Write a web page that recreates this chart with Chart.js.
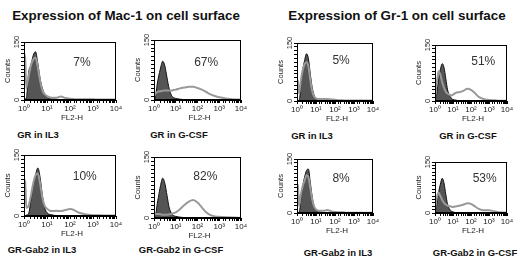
<!DOCTYPE html>
<html>
<head>
<meta charset="utf-8">
<script src="https://cdn.jsdelivr.net/npm/chart.js@4.4.1/dist/chart.umd.min.js"></script>
<style>
  body { margin: 0; width: 520px; height: 257px; background: #fff; position: relative; overflow: hidden;
         font-family: "Liberation Sans", Arial, sans-serif; }
  .txt { position: absolute; white-space: nowrap; transform: translate(-50%, -50%); color: #111; }
  .title { font-weight: bold; font-size: 13.4px; }
  .sample { font-weight: bold; font-size: 9.5px; }
  .panel { position: absolute; }
</style>
</head>
<body>
<script>
// FL2-H channel (log scale) where each count is read
const fl2Bins = [1, 1.12, 1.26, 1.41, 1.58, 2.0, 2.51, 3.16, 3.98, 5.01, 6.31, 7.94, 10,
                 15.8, 25.1, 39.8, 63.1, 100, 158, 251, 398, 631, 1000, 2000, 3980, 10000];

// Mac-1, GR in IL3
const macGrIL3Ctrl   = [0, 2, 5, 30, 70, 90, 115, 125, 95, 55, 30, 15, 6, 3, 2, 1, 0, 0, 0, 0, 0, 0, 0, 0, 0, 0];
const macGrIL3Stain  = [120, 110, 30, 45, 60, 90, 105, 110, 85, 50, 25, 15, 10, 6, 6, 9, 5, 3, 2, 2, 2, 2, 2, 1, 1, 1];
// Mac-1, GR in G-CSF
const macGrGcsfCtrl  = [0, 5, 20, 40, 55, 80, 97, 85, 55, 28, 12, 6, 4, 2, 1, 0, 0, 0, 0, 0, 0, 0, 0, 0, 0, 0];
const macGrGcsfStain = [10, 14, 18, 20, 21, 22, 23, 24, 24, 24, 24, 25, 26, 29, 31, 33, 33, 30, 26, 20, 14, 10, 7, 4, 2, 1];
// Gr-1, GR in IL3
const gr1GrIL3Ctrl   = [0, 0, 2, 10, 40, 80, 105, 122, 110, 70, 35, 15, 6, 3, 1, 0, 0, 0, 0, 0, 0, 0, 0, 0, 0, 0];
const gr1GrIL3Stain  = [55, 50, 20, 30, 50, 80, 95, 100, 90, 55, 25, 12, 7, 5, 5, 5, 4, 3, 2, 2, 1, 1, 1, 1, 1, 1];
// Gr-1, GR in G-CSF
const gr1GrGcsfCtrl  = [0, 8, 20, 40, 60, 85, 100, 90, 60, 30, 15, 8, 4, 2, 0, 0, 0, 0, 0, 0, 0, 0, 0, 0, 0, 0];
const gr1GrGcsfStain = [5, 30, 50, 65, 80, 70, 50, 35, 25, 20, 17, 15, 17, 23, 24, 28, 33, 30, 22, 12, 7, 4, 3, 2, 1, 1];
// Mac-1, GR-Gab2 in IL3
const macGabIL3Ctrl   = [0, 0, 2, 3, 5, 40, 75, 100, 118, 95, 50, 20, 8, 3, 1, 0, 0, 0, 0, 0, 0, 0, 0, 0, 0, 0];
const macGabIL3Stain  = [90, 85, 20, 22, 25, 50, 80, 100, 105, 80, 45, 25, 18, 12, 13, 12, 15, 17, 14, 8, 5, 3, 2, 2, 1, 1];
// Mac-1, GR-Gab2 in G-CSF
const macGabGcsfCtrl  = [0, 4, 15, 35, 50, 80, 98, 85, 55, 25, 12, 6, 4, 2, 1, 0, 0, 0, 0, 0, 0, 0, 0, 0, 0, 0];
const macGabGcsfStain = [8, 9, 10, 10, 10, 9, 8, 8, 8, 9, 10, 12, 14, 22, 32, 40, 44, 38, 26, 14, 7, 4, 3, 2, 1, 0];
// Gr-1, GR-Gab2 in IL3
const gr1GabIL3Ctrl   = [0, 0, 2, 10, 35, 75, 100, 118, 122, 85, 45, 18, 7, 3, 1, 0, 0, 0, 0, 0, 0, 0, 0, 0, 0, 0];
const gr1GabIL3Stain  = [80, 75, 20, 30, 50, 75, 90, 105, 100, 70, 38, 18, 10, 6, 6, 8, 5, 3, 2, 2, 1, 1, 1, 1, 1, 1];
// Gr-1, GR-Gab2 in G-CSF
const gr1GabGcsfCtrl  = [0, 10, 25, 45, 60, 85, 102, 88, 55, 25, 12, 6, 3, 1, 0, 0, 0, 0, 0, 0, 0, 0, 0, 0, 0, 0];
const gr1GabGcsfStain = [5, 30, 45, 55, 60, 50, 38, 30, 25, 22, 20, 19, 18, 20, 22, 25, 29, 27, 20, 13, 9, 8, 8, 5, 2, 1];

const percentLabels = ['7%', '67%', '5%', '51%', '10%', '82%', '8%', '53%'];
const sampleNames = ['GR in IL3', 'GR in G-CSF', 'GR in IL3', 'GR in G-CSF',
                     'GR-Gab2 in IL3', 'GR-Gab2 in G-CSF', 'GR-Gab2 in IL3', 'GR-Gab2 in G-CSF'];
const groupTitles = ['Expression of Mac-1 on cell surface', 'Expression of Gr-1 on cell surface'];
const decadeTicks = ['10\u2070', '10\u00b9', '10\u00b2', '10\u00b3', '10\u2074'];
const countTicks = [0, 150];

const controls = [macGrIL3Ctrl, macGrGcsfCtrl, gr1GrIL3Ctrl, gr1GrGcsfCtrl,
                  macGabIL3Ctrl, macGabGcsfCtrl, gr1GabIL3Ctrl, gr1GabGcsfCtrl];
const stains = [macGrIL3Stain, macGrGcsfStain, gr1GrIL3Stain, gr1GrGcsfStain,
                macGabIL3Stain, macGabGcsfStain, gr1GabIL3Stain, gr1GabGcsfStain];

// plot boxes on the page + where the % sits inside the box
const panels = [
  { l: 24,  t: 42,  r: 116, b: 100, px: 0.63, py: 0.36, nx: 38,  ny: 134 },
  { l: 154, t: 40,  r: 241, b: 100, px: 0.60, py: 0.37, nx: 179, ny: 134 },
  { l: 297, t: 43,  r: 373, b: 101, px: 0.58, py: 0.31, nx: 312, ny: 135 },
  { l: 435, t: 45,  r: 507, b: 101, px: 0.67, py: 0.29, nx: 468, ny: 135 },
  { l: 24,  t: 155, r: 116, b: 216, px: 0.66, py: 0.36, nx: 42,  ny: 249 },
  { l: 154, t: 157, r: 241, b: 218, px: 0.59, py: 0.33, nx: 181, ny: 249 },
  { l: 297, t: 159, r: 373, b: 213, px: 0.58, py: 0.37, nx: 338, ny: 252 },
  { l: 435, t: 162, r: 507, b: 213, px: 0.69, py: 0.33, nx: 475, ny: 252 }
];
const titlePos = [{ x: 126, y: 15 }, { x: 397, y: 15 }];

const Y_W = 26, PAD_T = 10, PAD_R = 10, X_H = 24;
const FONT = '"Liberation Sans", Arial, sans-serif';

function addText(text, x, y, cls) {
  const d = document.createElement('div');
  d.className = 'txt ' + cls;
  d.textContent = text;
  d.style.left = x + 'px';
  d.style.top = y + 'px';
  document.body.appendChild(d);
}

// box outline, rotated y labels, FL2-H and the percentage
const panelDecor = {
  id: 'panelDecor',
  afterDraw(chart, args, opts) {
    const { ctx, chartArea: a } = chart;
    const yScale = chart.scales.y;
    ctx.save();
    ctx.strokeStyle = '#000';
    ctx.lineWidth = 1;
    ctx.strokeRect(Math.round(a.left) + 0.5, Math.round(a.top) + 0.5,
                   Math.round(a.right - a.left) - 1, Math.round(a.bottom - a.top) - 1);

    ctx.fillStyle = '#222';
    ctx.textAlign = 'center';
    ctx.textBaseline = 'middle';
    ctx.font = '7.5px ' + FONT;
    countTicks.forEach(v => {
      ctx.save();
      ctx.translate(a.left - 7, yScale.getPixelForValue(v));
      ctx.rotate(-Math.PI / 2);
      ctx.fillText(String(v), 0, 0);
      ctx.restore();
    });
    ctx.save();
    ctx.translate(a.left - 16, (a.top + a.bottom) / 2);
    ctx.rotate(-Math.PI / 2);
    ctx.fillText('Counts', 0, 0);
    ctx.restore();

    ctx.font = '8px ' + FONT;
    ctx.fillText('FL2-H', (a.left + a.right) / 2 + 2, a.bottom + 18);

    ctx.fillStyle = '#333';
    ctx.font = '12px ' + FONT;
    ctx.fillText(opts.label, a.left + opts.px * (a.right - a.left), a.top + opts.py * (a.bottom - a.top));
    ctx.restore();
  }
};

function createPanel(i) {
  const p = panels[i];
  const w = p.r - p.l + Y_W + PAD_R;
  const h = p.b - p.t + PAD_T + X_H;
  const wrap = document.createElement('div');
  wrap.className = 'panel';
  wrap.style.left = (p.l - Y_W) + 'px';
  wrap.style.top = (p.t - PAD_T) + 'px';
  const canvas = document.createElement('canvas');
  canvas.width = w;
  canvas.height = h;
  canvas.style.width = w + 'px';
  canvas.style.height = h + 'px';
  wrap.appendChild(canvas);
  document.body.appendChild(wrap);

  return new Chart(canvas, {
    type: 'line',
    data: {
      datasets: [
        {
          data: fl2Bins.map((x, k) => ({ x: x, y: stains[i][k] })),
          borderColor: '#999',
          borderWidth: 2,
          fill: false,
          pointRadius: 0,
          cubicInterpolationMode: 'monotone'
        },
        {
          data: fl2Bins.map((x, k) => ({ x: x, y: controls[i][k] })),
          borderColor: '#111',
          backgroundColor: '#555',
          borderWidth: 1,
          fill: 'origin',
          pointRadius: 0,
          cubicInterpolationMode: 'monotone'
        }
      ]
    },
    options: {
      responsive: false,
      animation: false,
      events: [],
      layout: { padding: { top: PAD_T, right: PAD_R, left: 0, bottom: 0 } },
      plugins: {
        legend: { display: false },
        tooltip: { enabled: false },
        panelDecor: { label: percentLabels[i], px: p.px, py: p.py }
      },
      scales: {
        x: {
          type: 'logarithmic',
          min: 1,
          max: 10000,
          afterFit: s => { s.height = X_H; },
          border: { color: '#000' },
          grid: { drawOnChartArea: false, tickLength: 3, tickColor: '#000' },
          ticks: {
            autoSkip: false,
            maxRotation: 0,
            padding: 1,
            color: '#222',
            font: { size: 8, family: FONT },
            callback: v => {
              const e = Math.round(Math.log10(v));
              return Math.abs(Math.pow(10, e) - v) < 1e-6 ? decadeTicks[e] : '';
            }
          }
        },
        y: {
          min: 0,
          max: 150,
          afterFit: s => { s.width = Y_W; },
          border: { color: '#000' },
          grid: { drawOnChartArea: false, tickLength: 3, tickColor: '#000' },
          ticks: { display: false, stepSize: 10 }
        }
      }
    },
    plugins: [panelDecor]
  });
}

groupTitles.forEach((t, g) => addText(t, titlePos[g].x, titlePos[g].y, 'title'));
panels.forEach((p, i) => {
  createPanel(i);
  addText(sampleNames[i], p.nx, p.ny, 'sample');
});
</script>
</body>
</html>
